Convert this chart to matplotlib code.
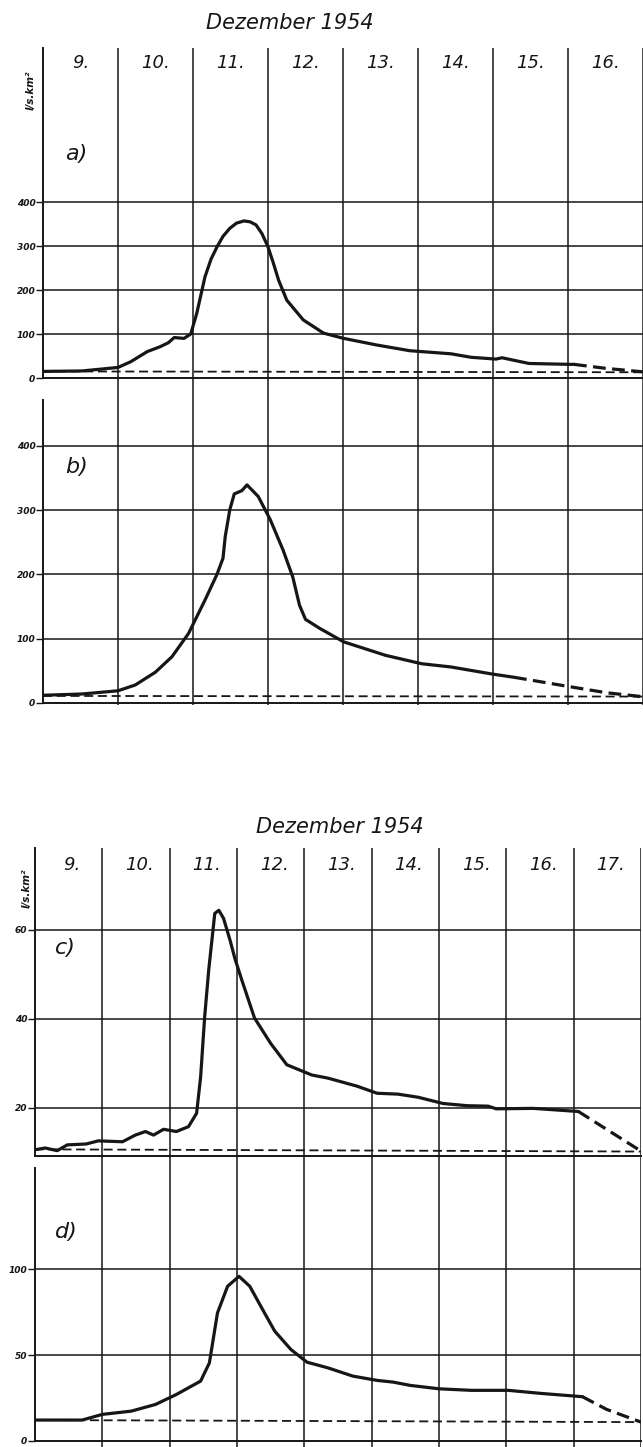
import matplotlib
matplotlib.use("Agg")
import matplotlib.pyplot as plt
from matplotlib.transforms import blended_transform_factory

# --- data (days of December 1954, l/s.km2) ---
top_days = [9, 10, 11, 12, 13, 14, 15, 16]
bottom_days = [9, 10, 11, 12, 13, 14, 15, 16, 17]

a_days = [9.0, 9.52, 10.0, 10.17, 10.39, 10.56, 10.67, 10.75, 10.88, 10.97, 11.05, 11.16,
          11.24, 11.32, 11.4, 11.49, 11.58, 11.68, 11.76, 11.84, 11.92, 12.0, 12.07, 12.14,
          12.25, 12.47, 12.74, 13.01, 13.45, 13.89, 14.44, 14.71, 15.04, 15.12, 15.48, 16.02, 16.08]
a_vals = [15, 16, 24, 37, 60, 71, 80, 92, 90, 100, 147, 230,
          270, 298, 322, 340, 352, 357, 355, 348, 328, 298, 262, 223,
          177, 132, 102, 90, 75, 62, 55, 47, 43, 46, 33, 31, 31]
a_ext_days = [16.08, 16.5, 17.0]
a_ext_vals = [31, 22, 14]
a_base_days = [9.0, 17.0]
a_base_vals = [15, 13]

b_days = [9.0, 9.52, 10.0, 10.23, 10.5, 10.72, 10.94, 11.16, 11.32, 11.4, 11.43, 11.49,
          11.55, 11.65, 11.72, 11.87, 12.03, 12.2, 12.33, 12.42, 12.5, 12.69, 13.01, 13.57,
          14.05, 14.44, 14.99, 15.28]
b_vals = [12, 14, 19, 28, 48, 72, 108, 160, 200, 225, 259, 300,
          325, 330, 339, 321, 285, 238, 196, 152, 130, 116, 95, 74,
          61, 56, 45, 40]
b_ext_days = [15.28, 15.99, 16.51, 16.98]
b_ext_vals = [40, 26, 16, 10]
b_base_days = [9.0, 17.0]
b_base_vals = [11, 10]

c_days = [9.0, 9.15, 9.33, 9.48, 9.76, 9.94, 10.3, 10.49, 10.64, 10.76, 10.91, 11.1,
          11.28, 11.4, 11.46, 11.52, 11.58, 11.67, 11.73, 11.8, 11.9, 11.97, 12.07, 12.26,
          12.5, 12.74, 13.11, 13.35, 13.78, 14.08, 14.39, 14.69, 15.06, 15.42, 15.73, 15.85,
          16.4, 17.07]
c_vals = [10.6, 11, 10.4, 11.7, 11.9, 12.6, 12.4, 13.9, 14.7, 13.9, 15.2, 14.7,
          15.8, 18.8, 27, 40.5, 51, 63.7, 64.4, 62.6, 57.5, 53.5, 48.8, 40.2,
          34.5, 29.7, 27.4, 26.7, 24.9, 23.3, 23.1, 22.4, 21, 20.5, 20.4, 19.8,
          19.9, 19.2]
c_ext_days = [17.07, 18.0]
c_ext_vals = [19.2, 10.3]
c_base_days = [9.0, 18.0]
c_base_vals = [10.7, 10.2]

d_days = [9.0, 9.7, 10.0, 10.43, 10.79, 11.1, 11.46, 11.59, 11.71, 11.86, 12.03, 12.19,
          12.38, 12.56, 12.8, 13.04, 13.35, 13.72, 14.08, 14.32, 14.57, 15.0, 15.48, 16.03,
          16.52, 17.13]
d_vals = [12.2, 12.2, 15.5, 17.4, 21.3, 27.1, 34.9, 45.5, 74.6, 90.1, 95.9, 90.1,
          76.6, 64, 53.3, 45.9, 42.6, 37.8, 35.3, 34.3, 32.4, 30.4, 29.5, 29.5,
          27.7, 25.8]
d_ext_days = [17.13, 17.49, 18.0]
d_ext_vals = [25.8, 18.4, 11]
d_base_days = [9.0, 18.0]
d_base_vals = [12.2, 11]

W, H = 643, 1447
INK = "#161616"

fig = plt.figure(figsize=(W / 100, H / 100), dpi=100)
fig.patch.set_facecolor("white")


def box(x0, x1, ytop, ybot):
    return [x0 / W, 1 - ybot / H, (x1 - x0) / W, (ybot - ytop) / H]


def panel(rect, xlim, ylim, ticks, labels, tag, tag_y):
    ax = fig.add_axes(rect)
    ax.set_xlim(*xlim)
    ax.set_ylim(*ylim)
    ax.patch.set_alpha(0)
    for s in ["top", "right"]:
        ax.spines[s].set_visible(False)
    for s in ["left", "bottom"]:
        ax.spines[s].set_linewidth(1.4)
        ax.spines[s].set_color(INK)
    ax.set_xticks([])
    ax.set_yticks(ticks)
    ax.set_yticklabels(labels, fontsize=6.5, fontstyle="italic", fontweight="bold", color=INK)
    ax.tick_params(axis="y", length=5, width=1, pad=0.5, color=INK)
    for t in ticks:
        if t > ylim[0]:
            ax.axhline(t, color=INK, lw=1.1, zorder=1)
    ax.text(xlim[0] + 0.3, tag_y, tag, fontsize=16, fontstyle="italic", color=INK,
            ha="left", va="center")
    return ax


def curve(ax, xs, ys, ext_x, ext_y, bx, by):
    ax.plot(xs, ys, color=INK, lw=2.3, solid_joinstyle="round", solid_capstyle="round", zorder=3)
    ax.plot(ext_x, ext_y, color=INK, lw=2.3, linestyle=(0, (4, 2)), zorder=3)
    ax.plot(bx, by, color=INK, lw=1.3, linestyle=(0, (5, 2.6)), zorder=2)


# ---------------- upper sheet (a, b) ----------------
ax_a = panel(box(43, 643, 48, 378), (9, 17), (0, 750), [0, 100, 200, 300, 400],
             ["0", "100", "200", "300", "400"], "a)", 510)
curve(ax_a, a_days, a_vals, a_ext_days, a_ext_vals, a_base_days, a_base_vals)

ax_b = panel(box(43, 643, 400, 703), (9, 17), (0, 471), [0, 100, 200, 300, 400],
             ["0", "100", "200", "300", "400"], "b)", 367)
curve(ax_b, b_days, b_vals, b_ext_days, b_ext_vals, b_base_days, b_base_vals)

grid_top = fig.add_axes(box(43, 643, 48, 705))
grid_top.set_xlim(9, 17)
grid_top.axis("off")
for d in top_days[1:] + [17]:
    grid_top.axvline(d, color=INK, lw=1.1)

tr = blended_transform_factory(grid_top.transData, fig.transFigure)
for d in top_days:
    grid_top.text(d + 0.5, 1 - 63 / H, f"{d}.", transform=tr, fontsize=13,
                  fontstyle="italic", ha="center", va="center", color=INK)
fig.text(290 / W, 1 - 23 / H, "Dezember 1954", fontsize=15, fontstyle="italic",
         ha="center", va="center", color=INK)
fig.text(31 / W, 1 - 90 / H, "l/s.km²", fontsize=7.5, fontstyle="italic", fontweight="bold",
         rotation=90, ha="center", va="center", color=INK)

# ---------------- lower sheet (c, d) ----------------
ax_c = panel(box(35, 641, 848, 1156), (9, 18), (9.2, 78.4), [20, 40, 60],
             ["20", "40", "60"], "c)", 56)
curve(ax_c, c_days, c_vals, c_ext_days, c_ext_vals, c_base_days, c_base_vals)

ax_d = panel(box(35, 641, 1168, 1441), (9, 18), (0, 159), [0, 50, 100],
             ["0", "50", "100"], "d)", 122)
curve(ax_d, d_days, d_vals, d_ext_days, d_ext_vals, d_base_days, d_base_vals)

grid_bot = fig.add_axes(box(35, 641, 848, 1447))
grid_bot.set_xlim(9, 18)
grid_bot.axis("off")
for d in bottom_days[1:] + [18]:
    grid_bot.axvline(d, color=INK, lw=1.1)

tr2 = blended_transform_factory(grid_bot.transData, fig.transFigure)
for d in bottom_days:
    grid_bot.text(d + 0.55, 1 - 865 / H, f"{d}.", transform=tr2, fontsize=13,
                  fontstyle="italic", ha="center", va="center", color=INK)
fig.text(340 / W, 1 - 827 / H, "Dezember 1954", fontsize=15, fontstyle="italic",
         ha="center", va="center", color=INK)
fig.text(27 / W, 1 - 888 / H, "l/s.km²", fontsize=7.5, fontstyle="italic", fontweight="bold",
         rotation=90, ha="center", va="center", color=INK)

fig.savefig("out.png", dpi=100, facecolor="white")
